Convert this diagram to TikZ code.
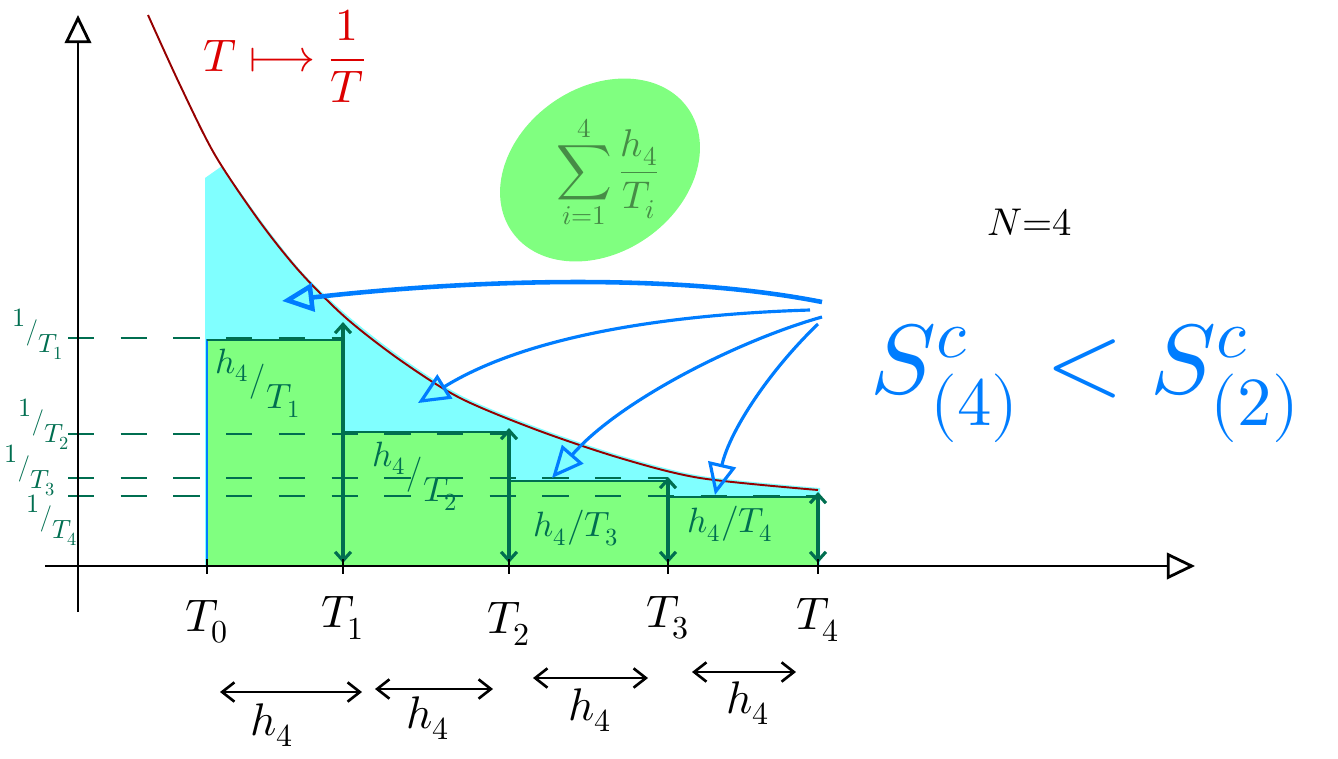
\documentclass[tikz,border=0pt]{standalone}
\usepackage{xcolor}
\usepackage{tikz}
\usepackage{amsmath}
\usepackage{fontspec}
\usepackage{unicode-math}
\setmathfont{Latin Modern Math}
\usetikzlibrary{arrows.meta,shapes.geometric}
\definecolor{penRed}{RGB}{220,0,0}
\definecolor{curveRed}{RGB}{150,0,0}
\definecolor{penTeal}{RGB}{0,110,80}
\definecolor{blobInk}{RGB}{70,140,70}
\definecolor{fillGreen}{RGB}{128,255,128}
\definecolor{fillCyan}{RGB}{128,255,255}
\definecolor{penBlue}{RGB}{0,125,255}
\newcommand{\slashfrac}[2]{\raisebox{0.5em}{$#1$}\kern0.02em/\kern0.02em\raisebox{-0.5em}{$#2$}}

\begin{document}
\begin{tikzpicture}[x=0.02cm, y=-0.02cm,
      axis/.style={line width=1.6pt, -{Triangle[open, length=16pt, width=15pt]}},
      guide/.style={penTeal, line width=1.4pt, dash pattern=on 15pt off 15pt},
      bar/.style={fill=fillGreen, draw=penBlue, line width=1.2pt},
      bartop/.style={penTeal, line width=1.6pt},
      barside/.style={penTeal, line width=1.8pt, {Straight Barb[length=5pt,width=9pt]}-{Straight Barb[length=5pt,width=9pt]}},
      hspan/.style={line width=1.5pt, {Straight Barb[length=7pt,width=11pt]}-{Straight Barb[length=7pt,width=11pt]}},
      pointer/.style={penBlue, line width=1.8pt, -{Triangle[open, length=18pt, width=16pt]}},
      blob/.style={ellipse, fill=fillGreen, minimum width=4.3cm, minimum height=3.3cm},
      axtick/.style={line width=1.2pt},
      tlabel/.style={font=\fontsize{26}{26}\selectfont},
      ylabel/.style={text=penTeal, font=\fontsize{15}{15}\selectfont, inner sep=1pt},
      barlabel/.style={text=penTeal, font=\fontsize{20}{20}\selectfont, inner sep=1pt}
    ]
    \useasboundingbox (0,0) rectangle (1338,758);

    \fill[fillCyan] (205,566) -- (205,178) -- plot[smooth] coordinates
      {(222,166) (262,222) (302,272) (348,316) (402,358) (462,396) (539,428)
       (622,456) (702,476) (820,488)} -- (820,566) -- cycle;

    \draw[bar] (207,340) rectangle (343,566);
    \draw[bar] (343,432) rectangle (509,566);
    \draw[bar] (509,481) rectangle (668,566);
    \draw[bar] (668,497) rectangle (818,566);

    \draw[bartop] (207,340) -- (343,340);
    \draw[bartop] (343,432) -- (509,432);
    \draw[bartop] (509,481) -- (668,481);
    \draw[bartop] (668,497) -- (818,497);

    \draw[guide] (68,338) -- (343,338);
    \draw[guide] (68,434) -- (509,434);
    \draw[guide] (68,478) -- (668,478);
    \draw[guide] (68,496) -- (818,496);

    \coordinate (b1) at (343,563);
    \coordinate (p1) at (343,322);
    \coordinate (b2) at (509,563);
    \coordinate (p2) at (509,428);
    \coordinate (b3) at (668,563);
    \coordinate (p3) at (668,477);
    \coordinate (b4) at (818,563);
    \coordinate (p4) at (818,492);
    \draw[barside] (b1) -- (p1);
    \draw[barside] (b2) -- (p2);
    \draw[barside] (b3) -- (p3);
    \draw[barside] (b4) -- (p4);

    \draw[curveRed, line width=1.1pt] plot[smooth] coordinates
      {(148,15) (180,85) (215,155) (260,222) (300,272) (346,318) (400,360)
       (460,398) (537,430) (620,458) (700,478) (818,490)};

    \coordinate (yfoot) at (78,612);
    \coordinate (ytip)  at (78,15);
    \coordinate (xfoot) at (45,566);
    \coordinate (xtip)  at (1195,566);
    \draw[axis] (yfoot) -- (ytip);
    \draw[axis] (xfoot) -- (xtip);

    \draw[axtick] (207,559) -- (207,574);
    \draw[axtick] (343,559) -- (343,574);
    \draw[axtick] (509,559) -- (509,574);
    \draw[axtick] (668,559) -- (668,574);
    \draw[axtick] (818,559) -- (818,574);

    \node[tlabel] (t0) at (207,622) {$T_0$};
    \node[tlabel] (t1) at (343,618) {$T_1$};
    \node[tlabel] (t2) at (509,624) {$T_2$};
    \node[tlabel] (t3) at (668,618) {$T_3$};
    \node[tlabel] (t4) at (818,620) {$T_4$};

    \node[ylabel] (inv1) at (38,334) {\slashfrac{1}{T_1}};
    \node[ylabel] (inv2) at (44,424) {\slashfrac{1}{T_2}};
    \node[ylabel] (inv3) at (30,470) {\slashfrac{1}{T_3}};
    \node[ylabel] (inv4) at (52,520) {\slashfrac{1}{T_4}};

    \node[barlabel] (area1) at (258,383) {\slashfrac{h_4}{T_1}};
    \node[barlabel] (area2) at (415,476) {\slashfrac{h_4}{T_2}};
    \node[barlabel] (area3) at (576,528) {$h_4/T_3$};
    \node[barlabel] (area4) at (730,524) {$h_4/T_4$};

    \coordinate (s1a) at (220,692);
    \coordinate (s1b) at (362,692);
    \coordinate (s2a) at (375,689);
    \coordinate (s2b) at (493,689);
    \coordinate (s3a) at (533,678);
    \coordinate (s3b) at (648,678);
    \coordinate (s4a) at (692,672);
    \coordinate (s4b) at (796,672);
    \draw[hspan] (s1a) -- (s1b);
    \draw[hspan] (s2a) -- (s2b);
    \draw[hspan] (s3a) -- (s3b);
    \draw[hspan] (s4a) -- (s4b);
    \node[tlabel] (h1) at (272,725) {$h_4$};
    \node[tlabel] (h2) at (428,718) {$h_4$};
    \node[tlabel] (h3) at (590,710) {$h_4$};
    \node[tlabel] (h4) at (748,703) {$h_4$};

    \node[text=penRed, font=\fontsize{26}{26}\selectfont] (map) at (285,56)
      {$T \longmapsto \dfrac{1}{T}$};

    \node[blob, rotate=35] (blob) at (600,170) {};
    \node[text=blobInk, font=\fontsize{22}{22}\selectfont] (sum) at (608,172)
      {$\displaystyle\sum_{i=1}^{4} \frac{h_4}{T_i}$};

    \node[font=\fontsize{22}{22}\selectfont] (count) at (1030,222) {$N{=}4$};

    \node[text=penBlue, font=\fontsize{56}{56}\selectfont] (ineq) at (1085,383)
      {$S^{c}_{(4)} < S^{c}_{(2)}$};

    \coordinate (hubA) at (822,302);
    \coordinate (hubB) at (810,310);
    \coordinate (hubC) at (822,317);
    \coordinate (hubD) at (818,324);
    \coordinate (gapA) at (282,301);
    \coordinate (gapB) at (418,403);
    \coordinate (gapC) at (552,478);
    \coordinate (gapD) at (715,495);
    \draw[pointer, line width=2.6pt] (hubA) .. controls (650,268) and (420,285) .. (gapA);
    \draw[pointer] (hubB) .. controls (650,315) and (520,340) .. (gapB);
    \draw[pointer] (hubC) .. controls (740,340) and (620,400) .. (gapC);
    \draw[pointer] (hubD) .. controls (770,370) and (730,430) .. (gapD);
  \end{tikzpicture}
\end{document}
